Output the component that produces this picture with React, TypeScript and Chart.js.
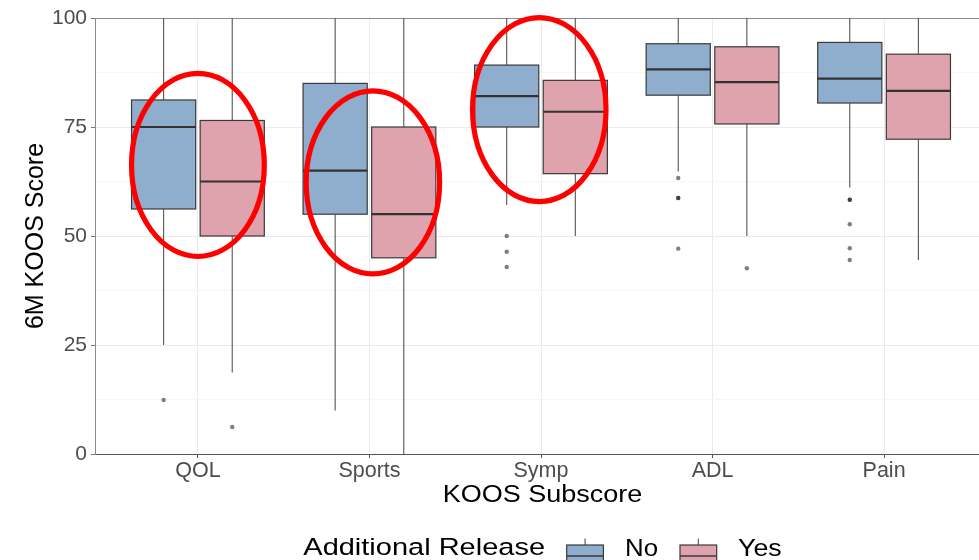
import React, { useEffect, useRef } from "react";
import { Chart, registerables } from "chart.js";

Chart.register(...registerables);

// ---------- data ----------
const categories = ["QOL", "Sports", "Symp", "ADL", "Pain"];
const seriesNames = ["No", "Yes"];
const yTickValues = [0, 25, 50, 75, 100];

const noLower = [25.0, 10.0, 57.1, 64.8, 61.1];
const noQ1 = [56.2, 55.0, 75.0, 82.3, 80.5];
const noMedian = [75.0, 65.0, 82.1, 88.2, 86.1];
const noQ3 = [81.2, 85.0, 89.2, 94.1, 94.4];
const noUpper = [100, 100, 100, 100, 100];
const noOutliers = [[12.4], [], [50.0, 46.4, 42.9], [63.3, 58.7, 58.7, 47.1], [58.3, 58.3, 52.7, 47.2, 44.5]];

const yesLower = [18.7, 0, 50.0, 50.0, 44.5];
const yesQ1 = [50.0, 45.0, 64.3, 75.7, 72.2];
const yesMedian = [62.5, 55.0, 78.5, 85.3, 83.3];
const yesQ3 = [76.5, 75.0, 85.7, 93.4, 91.7];
const yesUpper = [100, 100, 100, 100, 100];
const yesOutliers = [[6.2], [], [], [42.6], []];

// red highlight ellipses (data units)
const ellipseX = [1.0, 2.02, 2.99];
const ellipseY = [66.3, 62.3, 79.0];
const ellipseRX = [0.387, 0.389, 0.389];
const ellipseRY = [21.0, 21.0, 21.1];

// ---------- styles ----------
const FONT = '"Liberation Sans", Arial, sans-serif';
const FILL_NO = "#8FADCC";
const FILL_YES = "#DFA3AE";
const DODGE = 0.2;
const BOX_HALF = 0.187;

const groups = [
  { offset: -DODGE, fill: FILL_NO, lower: noLower, q1: noQ1, med: noMedian, q3: noQ3, upper: noUpper },
  { offset: DODGE, fill: FILL_YES, lower: yesLower, q1: yesQ1, med: yesMedian, q3: yesQ3, upper: yesUpper },
];

function outlierPoints(list: number[][], offset: number) {
  const pts: { x: number; y: number }[] = [];
  list.forEach((vals, i) => vals.forEach((v) => pts.push({ x: i + 1 + offset, y: v })));
  return pts;
}

function stretchedText(ctx: CanvasRenderingContext2D, text: string, left: number, baseline: number, size: number, width: number) {
  ctx.save();
  ctx.font = `${size}px ${FONT}`;
  const w = ctx.measureText(text).width;
  ctx.translate(left, baseline);
  ctx.scale(width / w, 1);
  ctx.textAlign = "left";
  ctx.textBaseline = "alphabetic";
  ctx.fillStyle = "#000";
  ctx.fillText(text, 0, 0);
  ctx.restore();
}

const boxPlugin = {
  id: "boxplots",
  beforeDatasetsDraw(chart: any) {
    const { ctx, scales } = chart;
    const x = scales.x, y = scales.y;
    ctx.save();
    groups.forEach((g) => {
      categories.forEach((_, i) => {
        const c = i + 1 + g.offset;
        const cx = x.getPixelForValue(c);
        const l = x.getPixelForValue(c - BOX_HALF);
        const r = x.getPixelForValue(c + BOX_HALF);
        const yLo = y.getPixelForValue(g.lower[i]);
        const yQ1 = y.getPixelForValue(g.q1[i]);
        const yMed = y.getPixelForValue(g.med[i]);
        const yQ3 = y.getPixelForValue(g.q3[i]);
        const yUp = y.getPixelForValue(g.upper[i]);
        ctx.strokeStyle = "#555555";
        ctx.lineWidth = 1.1;
        ctx.beginPath();
        ctx.moveTo(cx, yUp);
        ctx.lineTo(cx, yQ3);
        ctx.moveTo(cx, yQ1);
        ctx.lineTo(cx, yLo);
        ctx.stroke();
        ctx.fillStyle = g.fill;
        ctx.fillRect(l, yQ3, r - l, yQ1 - yQ3);
        ctx.strokeStyle = "#3a3a3a";
        ctx.lineWidth = 1.2;
        ctx.strokeRect(l, yQ3, r - l, yQ1 - yQ3);
        ctx.strokeStyle = "#333333";
        ctx.lineWidth = 2.2;
        ctx.beginPath();
        ctx.moveTo(l, yMed);
        ctx.lineTo(r, yMed);
        ctx.stroke();
      });
    });
    ctx.restore();
  },
  afterDatasetsDraw(chart: any) {
    const { ctx, scales } = chart;
    const x = scales.x, y = scales.y;
    ctx.save();
    ctx.strokeStyle = "#FF0000";
    ctx.lineWidth = 5.2;
    ellipseX.forEach((ex, i) => {
      const cx = x.getPixelForValue(ex);
      const cy = y.getPixelForValue(ellipseY[i]);
      const rx = Math.abs(x.getPixelForValue(ex + ellipseRX[i]) - cx);
      const ry = Math.abs(y.getPixelForValue(ellipseY[i] + ellipseRY[i]) - cy);
      ctx.beginPath();
      ctx.ellipse(cx, cy, rx, ry, 0, 0, Math.PI * 2);
      ctx.stroke();
    });
    ctx.restore();
  },
  afterDraw(chart: any) {
    const { ctx, chartArea } = chart;
    ctx.save();
    // y title
    ctx.save();
    ctx.translate(43.3, (chartArea.top + chartArea.bottom) / 2);
    ctx.rotate(-Math.PI / 2);
    ctx.font = `25px ${FONT}`;
    ctx.textAlign = "center";
    ctx.textBaseline = "alphabetic";
    ctx.fillStyle = "#000";
    ctx.fillText("6M KOOS Score", 0, 0);
    ctx.restore();
    // x title
    stretchedText(ctx, "KOOS Subscore", 442.7, 502.3, 23, 199.6);
    // legend
    stretchedText(ctx, "Additional Release", 303.3, 555, 24.5, 241.7);
    const keys = [
      { left: 566.7, fill: FILL_NO, labelLeft: 625, labelW: 33 },
      { left: 680, fill: FILL_YES, labelLeft: 738, labelW: 43.7 },
    ];
    keys.forEach((k, i) => {
      const w = 36.7;
      const cx = k.left + w / 2;
      ctx.strokeStyle = "#555555";
      ctx.lineWidth = 1.1;
      ctx.beginPath();
      ctx.moveTo(cx, 538.4);
      ctx.lineTo(cx, 545);
      ctx.moveTo(cx, 567);
      ctx.lineTo(cx, 573.6);
      ctx.stroke();
      ctx.fillStyle = k.fill;
      ctx.fillRect(k.left, 545, w, 22);
      ctx.strokeStyle = "#3a3a3a";
      ctx.lineWidth = 1.2;
      ctx.strokeRect(k.left, 545, w, 22);
      ctx.lineWidth = 1.4;
      ctx.beginPath();
      ctx.moveTo(k.left, 556);
      ctx.lineTo(k.left + w, 556);
      ctx.stroke();
      stretchedText(ctx, seriesNames[i], k.labelLeft, 555.5, 24.5, k.labelW);
    });
    ctx.restore();
  },
};

export default function App() {
  const ref = useRef<HTMLCanvasElement | null>(null);
  useEffect(() => {
    if (!ref.current) return;
    const chart = new Chart(ref.current, {
      type: "scatter",
      data: {
        datasets: [
          {
            label: seriesNames[0],
            data: outlierPoints(noOutliers, -DODGE),
            pointRadius: 2.2,
            pointBackgroundColor: "rgba(0,0,0,0.5)",
            pointBorderWidth: 0,
          },
          {
            label: seriesNames[1],
            data: outlierPoints(yesOutliers, DODGE),
            pointRadius: 2.2,
            pointBackgroundColor: "rgba(0,0,0,0.5)",
            pointBorderWidth: 0,
          },
        ],
      },
      options: {
        responsive: false,
        animation: false,
        events: [],
        layout: { padding: { top: 18, left: 0, right: 0, bottom: 0 } },
        plugins: { legend: { display: false }, tooltip: { enabled: false } },
        scales: {
          x: {
            type: "linear",
            min: 0.4,
            max: 5.6,
            afterBuildTicks: (scale: any) => {
              scale.ticks = categories.map((_, i) => ({ value: i + 1 }));
            },
            afterFit: (scale: any) => {
              scale.height = 106;
            },
            ticks: {
              autoSkip: false,
              maxRotation: 0,
              padding: 0,
              color: "#4D4D4D",
              font: { family: FONT, size: 21.5 },
              callback: (v: any) => categories[Math.round(v) - 1] ?? "",
            },
            grid: { color: "#EBEBEB", lineWidth: 1, tickLength: 4, tickColor: "#555" },
            border: { display: true, color: "#555", width: 1 },
          },
          y: {
            type: "linear",
            min: 0,
            max: 100,
            afterBuildTicks: (scale: any) => {
              const t: { value: number }[] = [];
              for (let v = 0; v <= 100; v += 12.5) t.push({ value: v });
              scale.ticks = t;
            },
            afterFit: (scale: any) => {
              scale.width = 95;
            },
            ticks: {
              padding: 4,
              color: "#4D4D4D",
              font: { family: FONT, size: 21 },
              callback: (v: any) => (yTickValues.includes(v) ? String(v) : ""),
            },
            grid: {
              lineWidth: 1,
              tickLength: 4,
              color: (c: any) =>
                c.tick && c.tick.value === 100 ? "#8a8a8a" : c.tick && c.tick.value % 25 === 0 ? "#EBEBEB" : "#F6F6F6",
              tickColor: (c: any) => (c.tick && c.tick.value % 25 === 0 ? "#777" : "rgba(0,0,0,0)"),
            },
            border: { display: true, color: "#8a8a8a", width: 1 },
          },
        },
      },
      plugins: [boxPlugin],
    } as any);
    return () => chart.destroy();
  }, []);
  return (
    <div style={{ position: "absolute", left: 0, top: 0, width: 979, height: 560, overflow: "hidden", background: "#fff" }}>
      <canvas ref={ref} width={991} height={560} style={{ display: "block" }} />
    </div>
  );
}
